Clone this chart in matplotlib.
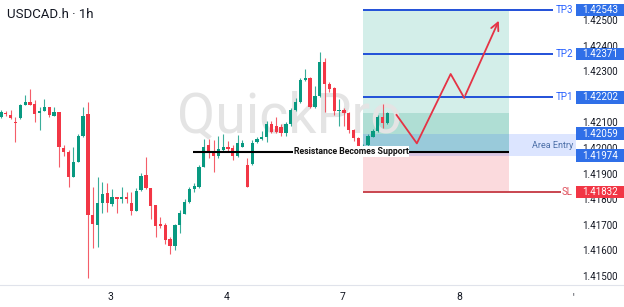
import matplotlib
matplotlib.use('Agg')
import matplotlib.pyplot as plt
from matplotlib.patches import Rectangle

plt.rcParams['font.family'] = ['Roboto', 'DejaVu Sans']

# Свечи USDCAD.h, 1h (O, H, L, C)
opens = [1.42125, 1.42142, 1.42134, 1.42106, 1.42121, 1.42171, 1.42183, 1.42175, 1.42139, 1.42150,
         1.42163, 1.42129, 1.42143, 1.42004, 1.41989, 1.41892, 1.41950, 1.42052, 1.42136, 1.41742,
         1.41705, 1.41790, 1.41827, 1.41785, 1.41811, 1.41806, 1.41814, 1.41790, 1.41759, 1.41840,
         1.41899, 1.41846, 1.41781, 1.41707, 1.41703, 1.41647, 1.41622, 1.41703, 1.41746, 1.41793,
         1.41842, 1.41853, 1.41931, 1.42015, 1.41987, 1.41973, 1.41996, 1.42007, 1.42003, 1.41973,
         1.42009, 1.41937, 1.41943, 1.42029, 1.42038, 1.42046, 1.42098, 1.42090, 1.42087, 1.42061,
         1.42098, 1.42152, 1.42182, 1.42270, 1.42276, 1.42166, 1.42207, 1.42341, 1.42253, 1.42237,
         1.42148, 1.42152, 1.42139, 1.42074, 1.42044, 1.41990, 1.42016, 1.42048, 1.42072, 1.42126,
         1.42103]
highs = [1.42152, 1.42150, 1.42152, 1.42124, 1.42176, 1.42209, 1.42234, 1.42192, 1.42163, 1.42195,
         1.42166, 1.42166, 1.42145, 1.42016, 1.41996, 1.42009, 1.42060, 1.42166, 1.42182, 1.41853,
         1.41892, 1.41870, 1.41866, 1.41843, 1.41813, 1.41850, 1.41833, 1.41833, 1.41846, 1.41905,
         1.41968, 1.41846, 1.41781, 1.41733, 1.41712, 1.41655, 1.41707, 1.41762, 1.41803, 1.41850,
         1.41866, 1.41937, 1.42038, 1.42038, 1.42035, 1.42051, 1.42059, 1.42031, 1.42016, 1.42055,
         1.42035, 1.41965, 1.42035, 1.42047, 1.42070, 1.42111, 1.42111, 1.42124, 1.42096, 1.42107,
         1.42162, 1.42198, 1.42279, 1.42312, 1.42282, 1.42248, 1.42378, 1.42357, 1.42262, 1.42243,
         1.42195, 1.42162, 1.42146, 1.42080, 1.42048, 1.42020, 1.42059, 1.42080, 1.42134, 1.42175,
         1.42146]
lows = [1.42120, 1.42129, 1.42116, 1.42029, 1.42119, 1.42170, 1.42171, 1.42104, 1.42074, 1.42150,
        1.42124, 1.42127, 1.41930, 1.41973, 1.41853, 1.41890, 1.41948, 1.42048, 1.41495, 1.41613,
        1.41618, 1.41749, 1.41755, 1.41777, 1.41749, 1.41788, 1.41788, 1.41742, 1.41759, 1.41837,
        1.41842, 1.41725, 1.41655, 1.41690, 1.41629, 1.41590, 1.41606, 1.41673, 1.41745, 1.41790,
        1.41831, 1.41846, 1.41929, 1.41964, 1.41911, 1.41966, 1.41993, 1.41988, 1.41957, 1.41970,
        1.42006, 1.41853, 1.41937, 1.42022, 1.42035, 1.42029, 1.42064, 1.42061, 1.42051, 1.42051,
        1.42090, 1.42148, 1.42178, 1.42266, 1.42159, 1.42160, 1.42204, 1.42146, 1.42221, 1.42133,
        1.42090, 1.42090, 1.42064, 1.42032, 1.41996, 1.41978, 1.42009, 1.42045, 1.42068, 1.42081,
        1.42099]
closes = [1.42145, 1.42137, 1.42122, 1.42100, 1.42172, 1.42182, 1.42172, 1.42138, 1.42150, 1.42163,
          1.42133, 1.42143, 1.42009, 1.41988, 1.41892, 1.41950, 1.42052, 1.42129, 1.41742, 1.41707,
          1.41790, 1.41823, 1.41788, 1.41811, 1.41806, 1.41814, 1.41804, 1.41758, 1.41837, 1.41895,
          1.41846, 1.41777, 1.41699, 1.41699, 1.41645, 1.41622, 1.41703, 1.41749, 1.41794, 1.41842,
          1.41855, 1.41931, 1.42009, 1.41983, 1.41973, 1.41999, 1.42009, 1.41999, 1.41973, 1.42022,
          1.42025, 1.41853, 1.42022, 1.42038, 1.42046, 1.42098, 1.42068, 1.42068, 1.42061, 1.42098,
          1.42152, 1.42182, 1.42270, 1.42279, 1.42166, 1.42207, 1.42341, 1.42253, 1.42233, 1.42148,
          1.42152, 1.42139, 1.42074, 1.42044, 1.42009, 1.42012, 1.42051, 1.42072, 1.42124, 1.42103,
          1.42139]

price_ticks = [1.425, 1.424, 1.423, 1.422, 1.421, 1.420, 1.419, 1.418, 1.417, 1.416, 1.415]
day_pos = [22.6, 46.7, 70.8, 94.9]
day_labels = ['3', '4', '7', '8']

tp_levels = [1.42202, 1.42371, 1.42543]
tp_names = ['TP1', 'TP2', 'TP3']
entry_top = 1.42059
entry_bot = 1.41974
entry = 1.41990
sl = 1.41832

zone_x = [74.9, 105.2]
support_x = [39.75, 105.2]
path_x = [81.9, 86.1, 93.1, 95.9, 103.3]
path_y = [1.42133, 1.42022, 1.42293, 1.42200, 1.42511]

green = '#089981'
red = '#f23645'
blue_box = '#2f6fe8'

fig = plt.figure(figsize=(6.24, 3.07), dpi=100)
ax = fig.add_axes([0, 22 / 307, 1, 285 / 307])
ax.set_xlim(-0.207, 128.99)
ax.set_ylim(1.414688, 1.425820)

# Водяной знак
ax.text(59.8, 1.42125, 'QuickPro', fontsize=40, color='#e4e4e4',
        ha='center', va='center', zorder=1)

# Зоны позиции
zw = zone_x[1] - zone_x[0]
ax.add_patch(Rectangle((zone_x[0], entry), zw, tp_levels[2] - entry,
                       facecolor='#d3eee9', edgecolor='none', zorder=0.5))
ax.add_patch(Rectangle((zone_x[0], entry), zw, closes[-1] - entry,
                       facecolor='#afded4', edgecolor='none', zorder=0.6))
ax.add_patch(Rectangle((zone_x[0], sl), zw, entry - sl,
                       facecolor='#fbdadd', edgecolor='none', zorder=0.5))
ax.add_patch(Rectangle((zone_x[0], entry_bot), 119.0 - zone_x[0], entry_top - entry_bot,
                       facecolor='#2962ff', alpha=0.16, edgecolor='none', zorder=0.7))

# Свечи
for i in range(len(opens)):
    o, h, l, c = opens[i], highs[i], lows[i], closes[i]
    col = green if c >= o else red
    ax.vlines(i, l, h, color=col, lw=0.8, alpha=0.8, zorder=2)
    bottom = min(o, c)
    height = max(abs(c - o), 0.00004)
    ax.bar(i, height, bottom=bottom, width=0.68, color=col, zorder=2.5)

# Уровни TP / SL
for lvl, name in zip(tp_levels, tp_names):
    ax.hlines(lvl, zone_x[0], 114.3, color='#2150d8', lw=1.4, zorder=3)
    ax.text(118.4, lvl, name, fontsize=7, color='#2962ff', ha='right', va='center', zorder=4)
ax.hlines(sl, zone_x[0], 115.9, color='#c9454f', lw=1.4, zorder=3)
ax.text(118.4, sl, 'SL', fontsize=7, color='#e0535f', ha='right', va='center', zorder=4)
ax.text(118.4, (entry_top + entry_bot) / 2 - 0.00004, 'Area Entry', fontsize=6.5,
        color='#4c6fa8', ha='right', va='center', zorder=4)

# Линия поддержки
ax.hlines(entry, support_x[0], support_x[1], color='black', lw=1.5, zorder=4)
ax.text(72.5, entry, 'Resistance Becomes Support', fontsize=6.3, fontweight='bold',
        color='#111111', ha='center', va='center', zorder=5,
        bbox=dict(facecolor='white', edgecolor='none', pad=0.6))

# Стрелка сценария
ax.plot(path_x[:-1], path_y[:-1], color='#e53345', lw=1.3, zorder=4)
ax.annotate('', xy=(path_x[-1], path_y[-1]), xytext=(path_x[-2], path_y[-2]),
            arrowprops=dict(arrowstyle='->', color='#e53345', lw=1.3, mutation_scale=14),
            zorder=4)

# Шкала цен справа
for p in price_ticks:
    ax.text(124.0, p, f'{p:.5f}', fontsize=7, color='#131722', ha='center', va='center',
            zorder=3, clip_on=False)

box_h = 0.00050
box_prices = tp_levels + [entry_top, entry_bot]
for p in box_prices:
    ax.add_patch(Rectangle((119.0, p - box_h / 2), 10, box_h, facecolor=blue_box,
                           edgecolor='none', zorder=6, clip_on=False))
    ax.text(124.0, p, f'{p:.5f}', fontsize=7, color='white', ha='center', va='center', zorder=7)
ax.add_patch(Rectangle((119.0, sl - box_h / 2), 10, box_h, facecolor=red,
                       edgecolor='none', zorder=6, clip_on=False))
ax.text(124.0, sl, f'{sl:.5f}', fontsize=7, color='white', ha='center', va='center', zorder=7)

# Оси
ax.set_yticks([])
ax.set_xticks(day_pos, day_labels)
ax.tick_params(axis='x', length=0, pad=5, labelsize=7.5, labelcolor='#131722')
for s in ['top', 'left', 'right']:
    ax.spines[s].set_visible(False)
ax.spines['bottom'].set_color('#e0e3eb')
ax.text(118.4, -0.025, "'", transform=ax.get_xaxis_transform(), fontsize=7,
        color='#131722', ha='center', va='top')

fig.text(7 / 624, 1 - 14 / 307, 'USDCAD.h · 1h', fontsize=9.5, color='#131722',
         ha='left', va='center')

fig.savefig('out.png', dpi=100)
